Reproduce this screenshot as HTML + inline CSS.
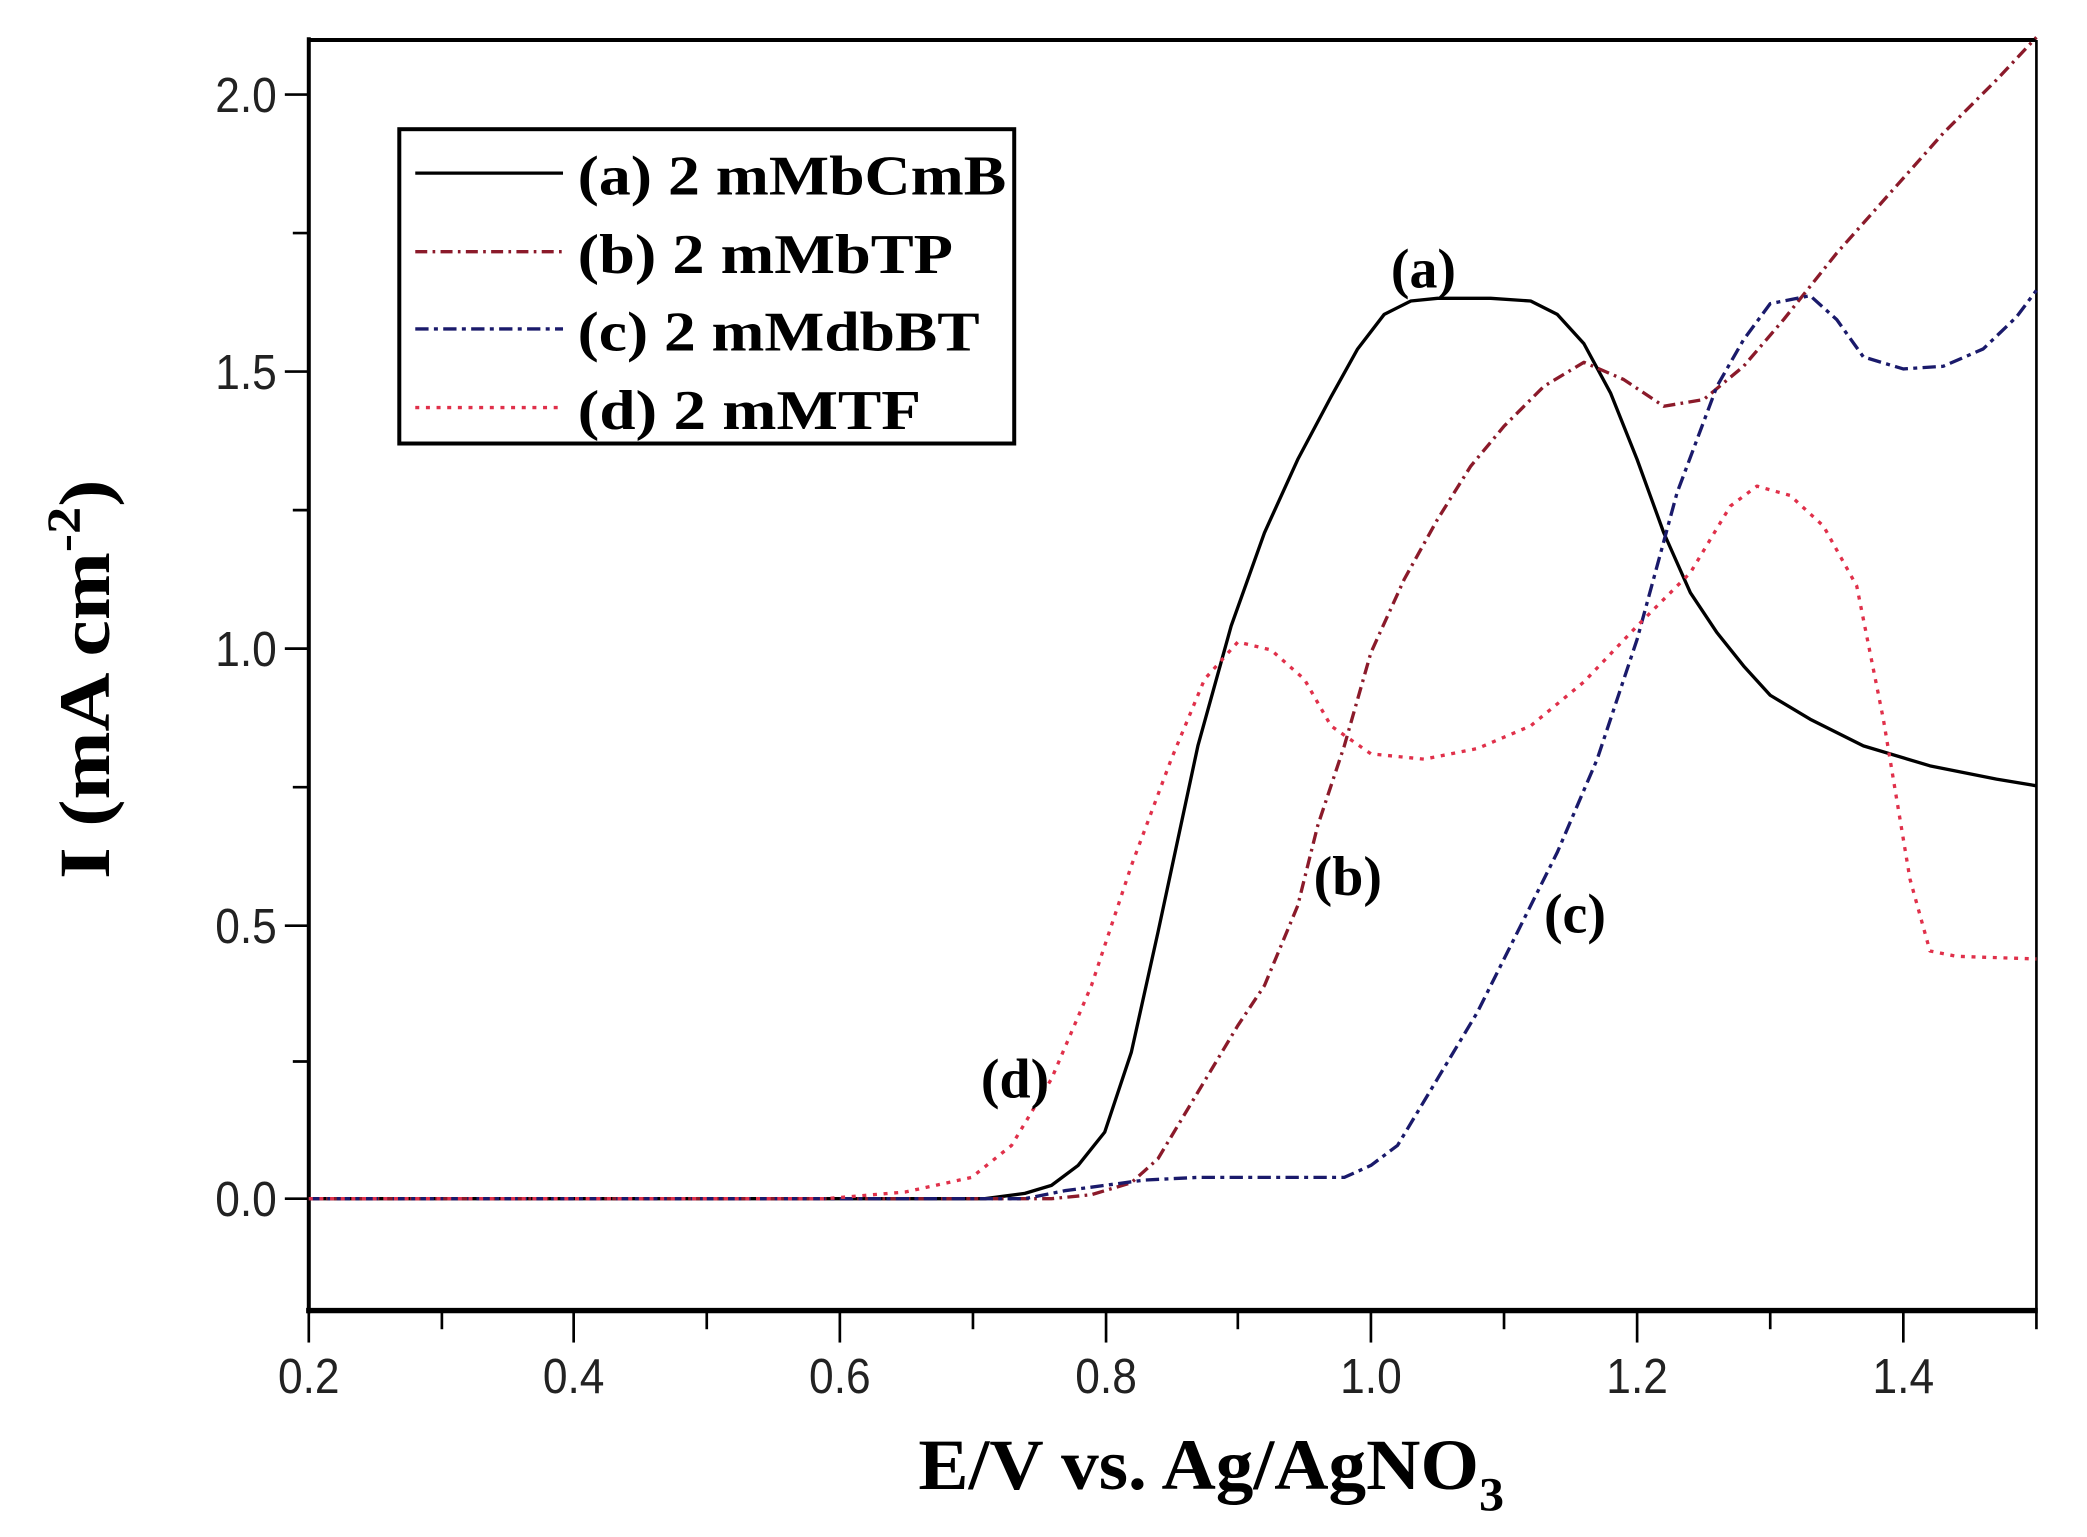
<!DOCTYPE html>
<html><head><meta charset="utf-8"><style>
html,body{margin:0;padding:0;background:#fff;}
svg{display:block;}
.t{font-family:"Liberation Sans",sans-serif;font-size:37px;fill:#222;}
.b{font-family:"Liberation Serif",serif;font-weight:bold;fill:#000;}
</style></head><body>
<svg width="2087" height="1537" viewBox="0 0 1568 1154" preserveAspectRatio="none" xmlns="http://www.w3.org/2000/svg">
<rect width="1568" height="1154" fill="#fff"/>
<line x1="232" y1="30" x2="1530" y2="30" stroke="#000" stroke-width="3"/>
<line x1="1530" y1="30" x2="1530" y2="984" stroke="#000" stroke-width="2"/>
<line x1="232" y1="28" x2="232" y2="986" stroke="#000" stroke-width="3"/>
<line x1="230" y1="984" x2="1531" y2="984" stroke="#000" stroke-width="4"/>
<g stroke="#000" stroke-width="2">
<line x1="232" y1="984" x2="232" y2="1008"/><line x1="332" y1="984" x2="332" y2="998"/>
<line x1="431" y1="984" x2="431" y2="1008"/><line x1="531" y1="984" x2="531" y2="998"/>
<line x1="631" y1="984" x2="631" y2="1008"/><line x1="731" y1="984" x2="731" y2="998"/>
<line x1="831" y1="984" x2="831" y2="1008"/><line x1="930" y1="984" x2="930" y2="998"/>
<line x1="1030" y1="984" x2="1030" y2="1008"/><line x1="1130" y1="984" x2="1130" y2="998"/>
<line x1="1230" y1="984" x2="1230" y2="1008"/><line x1="1330" y1="984" x2="1330" y2="998"/>
<line x1="1430" y1="984" x2="1430" y2="1008"/><line x1="1530" y1="984" x2="1530" y2="998"/>
<line x1="214" y1="71" x2="232" y2="71"/><line x1="220" y1="175" x2="232" y2="175"/>
<line x1="214" y1="279" x2="232" y2="279"/><line x1="220" y1="383" x2="232" y2="383"/>
<line x1="214" y1="487" x2="232" y2="487"/><line x1="220" y1="591" x2="232" y2="591"/>
<line x1="214" y1="695" x2="232" y2="695"/><line x1="220" y1="797" x2="232" y2="797"/>
<line x1="214" y1="900" x2="232" y2="900"/>
</g>
<g class="t" text-anchor="middle">
<text x="232" y="1046" transform="translate(232 0) scale(0.9 1) translate(-232 0)">0.2</text>
<text x="431" y="1046" transform="translate(431 0) scale(0.9 1) translate(-431 0)">0.4</text>
<text x="631" y="1046" transform="translate(631 0) scale(0.9 1) translate(-631 0)">0.6</text>
<text x="831" y="1046" transform="translate(831 0) scale(0.9 1) translate(-831 0)">0.8</text>
<text x="1030" y="1046" transform="translate(1030 0) scale(0.9 1) translate(-1030 0)">1.0</text>
<text x="1230" y="1046" transform="translate(1230 0) scale(0.9 1) translate(-1230 0)">1.2</text>
<text x="1430" y="1046" transform="translate(1430 0) scale(0.9 1) translate(-1430 0)">1.4</text>
</g>
<g class="t" text-anchor="end">
<text x="208" y="84" transform="translate(208 0) scale(0.9 1) translate(-208 0)">2.0</text>
<text x="208" y="292" transform="translate(208 0) scale(0.9 1) translate(-208 0)">1.5</text>
<text x="208" y="500" transform="translate(208 0) scale(0.9 1) translate(-208 0)">1.0</text>
<text x="208" y="708" transform="translate(208 0) scale(0.9 1) translate(-208 0)">0.5</text>
<text x="208" y="913" transform="translate(208 0) scale(0.9 1) translate(-208 0)">0.0</text>
</g>
<text class="b" x="690" y="1118" font-size="54" textLength="440" lengthAdjust="spacingAndGlyphs">E/V vs. Ag/AgNO<tspan font-size="36" dy="16">3</tspan></text>
<text class="b" font-size="54" transform="translate(82 660) rotate(-90)" textLength="300" lengthAdjust="spacingAndGlyphs">I (mA cm<tspan font-size="36" dy="-22">-2</tspan><tspan dy="22">)</tspan></text>
<g fill="none" stroke-linejoin="round">
<polyline stroke="#000" stroke-width="2.5" points="232,900 740,900 770,896 790,890 810,875 830,850 850,790 870,700 900,560 925,470 950,400 975,345 1000,298 1020,262 1040,236 1060,226 1080,224 1120,224 1150,226 1170,236 1190,258 1210,295 1230,345 1250,400 1270,445 1290,475 1310,500 1330,522 1360,540 1400,560 1450,575 1500,585 1530,590"/>
<polyline stroke="#8b1a2a" stroke-width="2.5" stroke-dasharray="9,4,2,4" points="232,900 790,900 820,897 850,888 870,870 900,820 930,770 950,740 975,680 990,620 1010,560 1030,490 1055,435 1080,390 1105,350 1130,320 1160,290 1190,272 1220,285 1250,305 1280,300 1310,275 1340,240 1380,190 1420,145 1460,100 1500,60 1530,28"/>
<polyline stroke="#1a1a6b" stroke-width="2.5" stroke-dasharray="10,4,3,4" points="232,900 770,900 800,894 830,890 860,886 900,884 1010,884 1030,875 1050,860 1080,810 1110,760 1140,700 1170,640 1200,570 1230,480 1260,370 1290,290 1310,255 1330,228 1360,222 1380,240 1400,268 1430,277 1460,275 1490,262 1515,238 1530,218"/>
<polyline stroke="#e0304a" stroke-width="2.5" stroke-dasharray="3,5" points="232,900 620,900 680,895 730,884 760,860 790,810 820,740 850,650 880,570 905,510 930,482 955,488 980,510 1000,545 1030,566 1070,570 1110,562 1150,545 1190,512 1230,470 1270,430 1300,380 1320,365 1345,372 1370,395 1395,440 1415,540 1435,660 1450,714 1470,718 1530,720"/>
</g>
<rect x="300" y="97" width="462" height="236" fill="#fff" stroke="#000" stroke-width="3"/>
<line x1="312" y1="130" x2="423" y2="130" stroke="#000" stroke-width="2.5"/>
<line x1="312" y1="189" x2="423" y2="189" stroke="#8b1a2a" stroke-width="2.5" stroke-dasharray="9,4,2,4"/>
<line x1="312" y1="247" x2="423" y2="247" stroke="#1a1a6b" stroke-width="2.5" stroke-dasharray="10,4,3,4"/>
<line x1="312" y1="306" x2="423" y2="306" stroke="#e0304a" stroke-width="2.5" stroke-dasharray="3,5"/>
<g class="b" font-size="42">
<text x="434" y="146" textLength="322" lengthAdjust="spacingAndGlyphs">(a) 2 mMbCmB</text>
<text x="434" y="205" textLength="282" lengthAdjust="spacingAndGlyphs">(b) 2 mMbTP</text>
<text x="434" y="263" textLength="302" lengthAdjust="spacingAndGlyphs">(c) 2 mMdbBT</text>
<text x="434" y="322" textLength="258" lengthAdjust="spacingAndGlyphs">(d) 2 mMTF</text>
<text x="1045" y="216">(a)</text>
<text x="987" y="672">(b)</text>
<text x="1160" y="700">(c)</text>
<text x="737" y="824">(d)</text>
</g>
</svg>
</body></html>
